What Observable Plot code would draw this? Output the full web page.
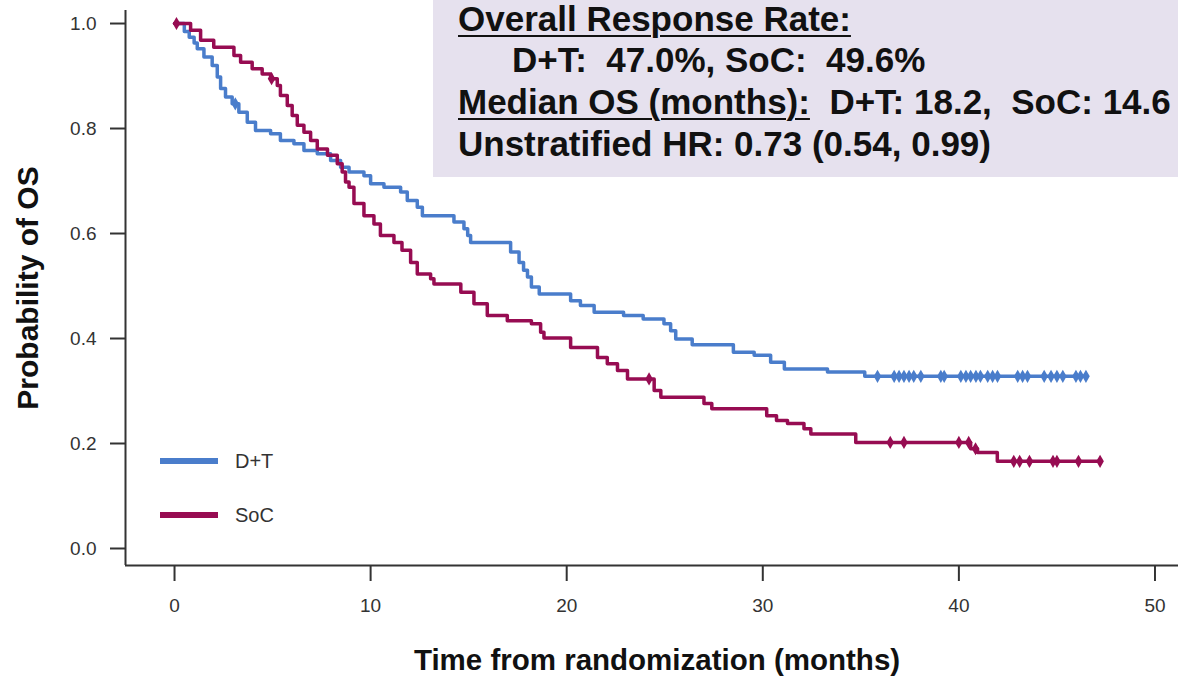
<!DOCTYPE html>
<html>
<head>
<meta charset="utf-8">
<script src="https://cdn.jsdelivr.net/npm/d3@7"></script>
<script src="https://cdn.jsdelivr.net/npm/@observablehq/plot@0.6"></script>
<style>
  html, body { margin: 0; padding: 0; background: #fff; }
  #chart { position: relative; width: 1178px; height: 676px; overflow: hidden;
           font-family: "Liberation Sans", Arial, sans-serif; }
  #stats { position: absolute; left: 433px; top: 0; width: 745px; height: 177px;
           background: #e6e1ee; color: #111; font-weight: bold; font-size: 35px; }
  #stats div { position: absolute; white-space: pre; line-height: 35px; }
  #stats u { text-underline-offset: 4px; text-decoration-thickness: 2px; }
  #legend { position: absolute; left: 160px; top: 446px; font-size: 20px; color: #333; }
  #legend .row { display: flex; align-items: center; height: 30px; margin-bottom: 24px; }
  #legend .sw { width: 58px; height: 6px; margin-right: 17px; }
</style>
</head>
<body>
<div id="chart"></div>
<script>
// Kaplan–Meier overall survival, D+T vs SoC
const groups = ["D+T", "SoC"];
const colors = ["#4a7dcb", "#970c52"];

// D+T: event times (months) and survival probability after each step
const dtTime = [0, 0.5, 0.75, 1.0, 1.16, 1.5, 1.92, 2.18, 2.35, 2.6, 2.94, 3.28, 3.71, 4.13, 4.9, 5.4,
  6.09, 6.6, 7.28, 7.96, 8.47, 8.9, 9.66, 10.0, 10.68, 11.53, 11.87, 12.38, 12.64, 14.25, 14.76,
  14.95, 15.1, 17.14, 17.57, 17.8, 18.0, 18.2, 18.6, 20.2, 20.7, 21.4, 22.9, 23.9, 24.96, 25.3,
  25.56, 26.4, 28.5, 29.56, 30.4, 31.1, 33.3, 35.2];
const dtSurv = [1.0, 0.985, 0.974, 0.963, 0.952, 0.936, 0.92, 0.898, 0.876, 0.86, 0.847, 0.831,
  0.812, 0.796, 0.79, 0.777, 0.771, 0.758, 0.752, 0.739, 0.726, 0.717, 0.71, 0.695, 0.688, 0.679,
  0.663, 0.65, 0.634, 0.622, 0.609, 0.596, 0.583, 0.565, 0.545, 0.53, 0.517, 0.498, 0.485, 0.472,
  0.463, 0.45, 0.444, 0.437, 0.428, 0.415, 0.399, 0.388, 0.374, 0.368, 0.355, 0.342, 0.336, 0.328];
// D+T: censoring times
const dtCensor = [3.1, 35.85, 36.7, 36.95, 37.2, 37.46, 37.7, 38.06, 39.08, 39.25, 40.1, 40.36,
  40.6, 40.87, 41.1, 41.47, 41.72, 41.97, 43.0, 43.25, 43.5, 44.35, 44.7, 45.0, 45.3, 45.97,
  46.2, 46.48];

// SoC: event times (months) and survival probability after each step
const socTime = [0, 0.82, 1.33, 2.0, 3.03, 3.37, 3.96, 4.47, 4.9, 5.24, 5.4, 5.75, 6.0, 6.26, 6.6,
  6.94, 7.28, 7.8, 8.3, 8.55, 8.72, 8.9, 9.15, 9.66, 10.17, 10.5, 11.19, 11.6, 12.04, 12.38, 13.06,
  13.23, 14.6, 15.27, 15.95, 16.97, 18.2, 18.67, 18.84, 20.2, 21.57, 22.07, 22.59, 23.1, 24.46,
  24.8, 27.0, 27.4, 30.2, 30.7, 31.26, 32.1, 32.45, 34.74, 40.6, 40.95, 41.96];
const socSurv = [1.0, 0.987, 0.968, 0.955, 0.939, 0.926, 0.914, 0.904, 0.895, 0.882, 0.863, 0.844,
  0.825, 0.806, 0.793, 0.777, 0.761, 0.749, 0.733, 0.717, 0.698, 0.688, 0.657, 0.634, 0.618, 0.596,
  0.583, 0.568, 0.545, 0.523, 0.514, 0.504, 0.488, 0.466, 0.444, 0.434, 0.428, 0.412, 0.401, 0.383,
  0.364, 0.352, 0.339, 0.323, 0.301, 0.288, 0.276, 0.266, 0.253, 0.244, 0.238, 0.228, 0.218, 0.202,
  0.19, 0.183, 0.166];
// SoC: censoring times
const socCensor = [0.1, 4.95, 24.2, 36.5, 37.2, 40.0, 40.5, 40.85, 42.8, 43.1, 43.6, 44.8, 45.0,
  46.1, 47.2];

const xTicks = [0, 10, 20, 30, 40, 50];
const yTicks = [0, 0.2, 0.4, 0.6, 0.8, 1.0];
const xTitle = "Time from randomization (months)";
const yTitle = "Probability of OS";

const statLines = [
  ["Overall Response Rate:", ""],
  ["", "D+T:  47.0%, SoC:  49.6%"],
  ["Median OS (months):", "  D+T: 18.2,  SoC: 14.6"],
  ["", "Unstratified HR: 0.73 (0.54, 0.99)"]
];

const xDomain = [-2.5, 51.2];
const yDomain = [-0.0324, 1.0248];

// step curve rows: last step extended to the final censoring time
function curveRows(times, surv, censor, group) {
  const rows = times.map((t, i) => ({t, s: surv[i], group}));
  const end = d3.max(censor);
  if (end > times[times.length - 1]) rows.push({t: end, s: surv[surv.length - 1], group});
  return rows;
}
function survAt(times, surv, t) {
  const i = d3.bisectRight(times, t) - 1;
  return surv[Math.max(0, i)];
}
function censorRows(times, surv, censor, group) {
  return censor.map(t => ({t, s: survAt(times, surv, t), group}));
}

const lines = [
  ...curveRows(dtTime, dtSurv, dtCensor, groups[0]),
  ...curveRows(socTime, socSurv, socCensor, groups[1])
];
const marks = [
  ...censorRows(dtTime, dtSurv, dtCensor, groups[0]),
  ...censorRows(socTime, socSurv, socCensor, groups[1])
];

const axisColor = "#333";
const plot = Plot.plot({
  width: 1178,
  height: 676,
  marginLeft: 125,
  marginRight: 0,
  marginTop: 10,
  marginBottom: 111,
  style: {fontFamily: "'Liberation Sans', Arial, sans-serif", background: "transparent"},
  x: {domain: xDomain},
  y: {domain: yDomain},
  color: {domain: groups, range: colors},
  marks: [
    Plot.axisX(xTicks, {tickSize: 16, tickPadding: 17, fontSize: 19, color: axisColor, strokeWidth: 2, label: null}),
    Plot.axisY(yTicks, {tickSize: 15, tickPadding: 14, fontSize: 19, color: axisColor, strokeWidth: 2,
      tickFormat: d => d.toFixed(1), label: null}),
    Plot.ruleY([yDomain[0]], {stroke: axisColor, strokeWidth: 2}),
    Plot.ruleX([xDomain[0]], {stroke: axisColor, strokeWidth: 2}),
    Plot.line(lines, {x: "t", y: "s", z: "group", stroke: "group", curve: "step-after", strokeWidth: 3.5}),
    Plot.dot(marks, {x: "t", y: "s", fill: "group", symbol: "diamond", r: 4}),
    Plot.text([xTitle], {frameAnchor: "bottom", dy: 104, dx: 5, fontSize: 29.5, fontWeight: "bold",
      fill: "#111", textAnchor: "middle"}),
    Plot.text([yTitle], {frameAnchor: "left", dx: -97, rotate: -90, fontSize: 30, fontWeight: "bold",
      fill: "#111", textAnchor: "middle"})
  ]
});

const chart = document.getElementById("chart");
chart.appendChild(plot);

// statistics panel
const stats = document.createElement("div");
stats.id = "stats";
const tops = [1, 42, 84, 126];
const lefts = [25, 79, 25, 25];
statLines.forEach(([under, rest], i) => {
  const d = document.createElement("div");
  d.style.top = tops[i] + "px";
  d.style.left = lefts[i] + "px";
  if (under) { const u = document.createElement("u"); u.textContent = under; d.appendChild(u); }
  if (rest) d.appendChild(document.createTextNode(rest));
  stats.appendChild(d);
});
chart.appendChild(stats);

// legend
const legend = document.createElement("div");
legend.id = "legend";
groups.forEach((g, i) => {
  const row = document.createElement("div");
  row.className = "row";
  const sw = document.createElement("span");
  sw.className = "sw";
  sw.style.background = colors[i];
  const lab = document.createElement("span");
  lab.textContent = g;
  row.appendChild(sw);
  row.appendChild(lab);
  legend.appendChild(row);
});
chart.appendChild(legend);
</script>
</body>
</html>
